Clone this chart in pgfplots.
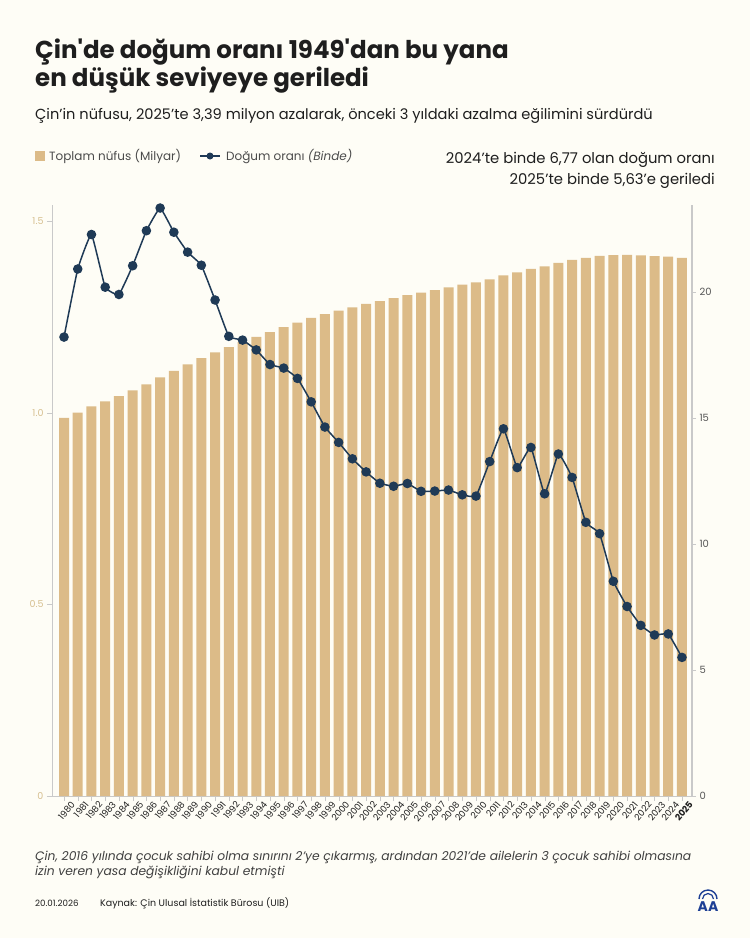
\documentclass[border=0pt]{standalone}
\usepackage{pgfplots}
\usepackage{pgfplotstable}
\pgfplotsset{compat=1.18}
\usepackage{fontspec}
\setmainfont{Poppins}
\newfontfamily\titlefont{Poppins}

\definecolor{bgc}{HTML}{FEFDF6}
\definecolor{barc}{HTML}{DCBB88}
\definecolor{linec}{HTML}{1F3A56}
\definecolor{tanlab}{HTML}{D6BF8F}
\definecolor{axc}{HTML}{C9C9C9}
\definecolor{txt}{HTML}{1E1E1E}
\definecolor{aablue}{HTML}{1D3F94}

% i = year - 1980, pop = total population (billion), br = birth rate (per mille)
\pgfplotstableread{
i pop br
0 0.987 18.21
1 1.001 20.91
2 1.017 22.28
3 1.030 20.19
4 1.044 19.90
5 1.059 21.04
6 1.075 22.43
7 1.093 23.33
8 1.110 22.37
9 1.127 21.58
10 1.143 21.06
11 1.158 19.68
12 1.172 18.24
13 1.185 18.09
14 1.199 17.70
15 1.211 17.12
16 1.224 16.98
17 1.236 16.57
18 1.248 15.64
19 1.258 14.64
20 1.267 14.03
21 1.276 13.38
22 1.285 12.86
23 1.292 12.41
24 1.300 12.29
25 1.308 12.40
26 1.314 12.09
27 1.321 12.10
28 1.328 12.14
29 1.335 11.95
30 1.341 11.90
31 1.349 13.27
32 1.359 14.57
33 1.367 13.03
34 1.376 13.83
35 1.383 11.99
36 1.392 13.57
37 1.400 12.64
38 1.405 10.86
39 1.410 10.41
40 1.412 8.52
41 1.4126 7.52
42 1.4118 6.77
43 1.4097 6.39
44 1.4083 6.43
45 1.4049 5.50
}\data

\begin{document}
\begin{tikzpicture}
\path[use as bounding box] (0pt,0pt) rectangle (750pt,-938pt);
\fill[bgc] (0pt,0pt) rectangle (750pt,-938pt);

% titles
\node[anchor=base west, inner sep=0pt, text=txt, font=\fontsize{24.5}{28}\titlefont\bfseries] at (35pt,-58pt) {Çin'de doğum oranı 1949'dan bu yana};
\node[anchor=base west, inner sep=0pt, text=txt, font=\fontsize{24.5}{28}\titlefont\bfseries] at (35pt,-86pt) {en düşük seviyeye geriledi};
\node[anchor=base west, inner sep=0pt, text=txt, font=\fontsize{14.6}{17}\selectfont] at (35pt,-119pt) {Çin’in nüfusu, 2025’te 3,39 milyon azalarak, önceki 3 yıldaki azalma eğilimini sürdürdü};

% legend
\fill[barc] (35pt,-151pt) rectangle (45pt,-161pt);
\node[anchor=base west, inner sep=0pt, text=txt!80, font=\fontsize{12}{14}\selectfont] at (49pt,-160pt) {Toplam nüfus (Milyar)};
\draw[linec, line width=1.5pt] (200pt,-156pt) -- (220pt,-156pt);
\fill[linec] (210pt,-156pt) circle (3.5pt);
\node[anchor=base west, inner sep=0pt, text=txt!80, font=\fontsize{12}{14}\selectfont] at (226pt,-160pt) {Doğum oranı \textit{(Binde)}};

% annotation
\node[anchor=base east, inner sep=0pt, text=txt, font=\fontsize{14.8}{17}\selectfont] at (715pt,-163pt) {2024’te binde 6,77 olan doğum oranı};
\node[anchor=base east, inner sep=0pt, text=txt, font=\fontsize{14.8}{17}\selectfont] at (715pt,-184pt) {2025’te binde 5,63’e geriledi};

\begin{axis}[
    at={(52pt,-796pt)}, anchor=south west,
    scale only axis, width=640pt, height=591pt,
    xmin=-0.874, xmax=45.73, ymin=0, ymax=1.543,
    axis x line*=bottom, axis y line*=left,
    axis line style={draw=axc, line width=0.8pt, -},
    xtick={0,...,45},
    xticklabels={1980,1981,1982,1983,1984,1985,1986,1987,1988,1989,1990,1991,1992,1993,1994,1995,1996,1997,1998,1999,2000,2001,2002,2003,2004,2005,2006,2007,2008,2009,2010,2011,2012,2013,2014,2015,2016,2017,2018,2019,2020,2021,2022,2023,2024,\textbf{2025}},
    ytick={0,0.5,1,1.5}, yticklabels={0,0.5,1.0,1.5},
    yticklabel style={text=tanlab, font=\fontsize{9.5}{11}\selectfont},
    xticklabel style={rotate=50, anchor=north east, font=\fontsize{9}{10}\selectfont, text=txt, inner sep=0.5pt, xshift=5pt, yshift=-4pt},
    tick align=outside, major tick length=5pt,
    ytick style={draw=axc}, xtick style={draw=axc},
    /pgf/number format/assume math mode=true,
]
\addplot[ybar, bar width=10pt, fill=barc, draw=none] table[x=i, y=pop] {\data};
\end{axis}

\begin{axis}[
    at={(52pt,-796pt)}, anchor=south west,
    scale only axis, width=640pt, height=591pt,
    xmin=-0.874, xmax=45.73, ymin=0, ymax=23.45,
    axis x line=none, axis y line*=right,
    axis line style={draw=axc, line width=1.8pt, -},
    ytick={0,5,10,15,20},
    yticklabel style={text=txt!75, font=\fontsize{10}{12}\selectfont},
    tick align=outside, major tick length=4pt,
    ytick style={draw=axc, line width=0.8pt},
    /pgf/number format/assume math mode=true,
    clip=false,
]
\addplot[color=linec, line width=1.5pt, smooth, tension=0.2, mark=*, mark size=4pt, mark options={fill=linec, draw=linec}] table[x=i, y=br] {\data};
\end{axis}

% footnote
\node[anchor=base west, inner sep=0pt, text=txt!85, font=\fontsize{12.3}{14}\selectfont\itshape] at (35pt,-860pt) {Çin, 2016 yılında çocuk sahibi olma sınırını 2’ye çıkarmış, ardından 2021’de ailelerin 3 çocuk sahibi olmasına};
\node[anchor=base west, inner sep=0pt, text=txt!85, font=\fontsize{12.3}{14}\selectfont\itshape] at (35pt,-875pt) {izin veren yasa değişikliğini kabul etmişti};

% footer
\node[anchor=base west, inner sep=0pt, text=txt, font=\fontsize{8.7}{10}\selectfont] at (35pt,-906pt) {20.01.2026};
\node[anchor=base west, inner sep=0pt, text=txt, font=\fontsize{9.5}{11}\selectfont] at (100pt,-906pt) {Kaynak: Çin Ulusal İstatistik Bürosu (UIB)};

% AA logo
\node[anchor=base, inner sep=0pt, text=aablue, font=\fontsize{14}{16}\selectfont\bfseries] at (708pt,-911pt) {AA};
\draw[aablue, line width=1.4pt] (699pt,-899pt) arc (180:0:9pt);
\draw[aablue, line width=1.2pt] (702.5pt,-899pt) arc (180:0:5.5pt);
\end{tikzpicture}
\end{document}
